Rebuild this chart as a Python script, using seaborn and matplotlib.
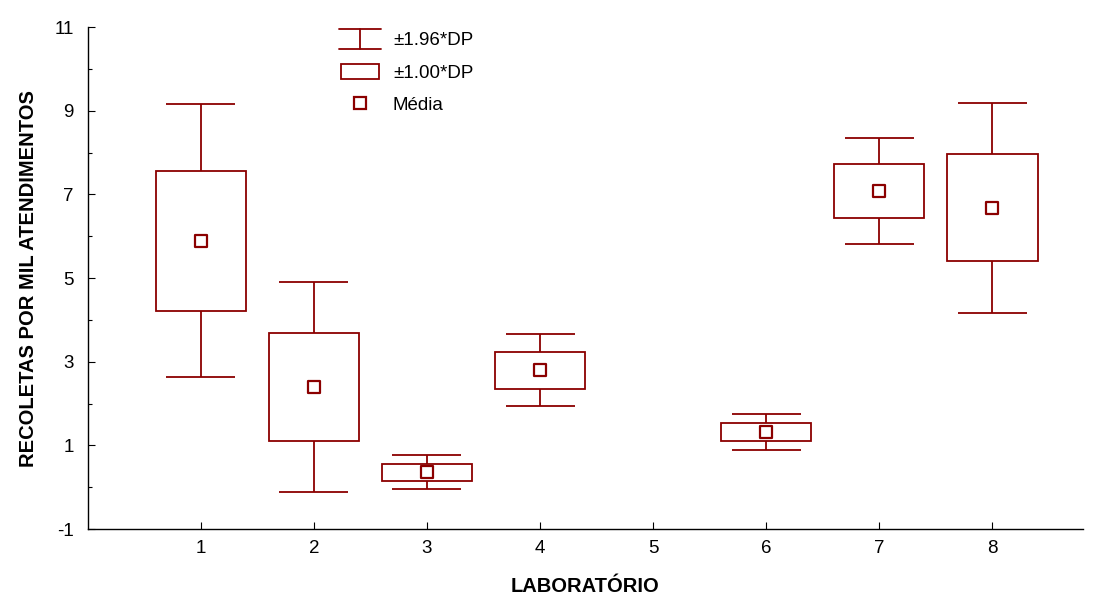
import numpy as np
import pandas as pd
import matplotlib
matplotlib.use("Agg")
import matplotlib.pyplot as plt
from matplotlib.legend_handler import HandlerBase
from matplotlib.lines import Line2D
from matplotlib.patches import Rectangle
import seaborn as sns

# Recoletas por mil atendimentos: média e desvio-padrão por laboratório
laboratorios = [1, 2, 3, 4, 5, 6, 7, 8]
medias = [5.89, 2.40, 0.36, 2.80, np.nan, 1.32, 7.08, 6.68]
desvios = [1.665, 1.285, 0.205, 0.44, np.nan, 0.215, 0.645, 1.28]

y_ticks = [-1, 1, 3, 5, 7, 9, 11]

COR = "#8B0000"

df = pd.DataFrame({"lab": laboratorios, "media": medias, "dp": desvios})
df["box_lo"] = df["media"] - df["dp"]
df["box_hi"] = df["media"] + df["dp"]
df["wh_lo"] = df["media"] - 1.96 * df["dp"]
df["wh_hi"] = df["media"] + 1.96 * df["dp"]
valid = df.dropna()

sns.set_style("ticks")
plt.rcParams["font.family"] = ["Liberation Sans", "DejaVu Sans"]
plt.rcParams["text.color"] = "black"
plt.rcParams["axes.labelcolor"] = "black"

fig = plt.figure(figsize=(10.97, 6.02), dpi=100)
ax = fig.add_axes([0.080, 0.121, 0.907, 0.834])

box_w = 0.8
cap_w = 0.61
lw = 1.3

# caixas ±1.00*DP
ax.bar(valid["lab"], valid["box_hi"] - valid["box_lo"], bottom=valid["box_lo"],
       width=box_w, facecolor="none", edgecolor=COR, linewidth=lw)
# hastes ±1.96*DP
ax.vlines(valid["lab"], valid["box_hi"], valid["wh_hi"], color=COR, linewidth=lw)
ax.vlines(valid["lab"], valid["wh_lo"], valid["box_lo"], color=COR, linewidth=lw)
ax.hlines(valid["wh_hi"], valid["lab"] - cap_w / 2, valid["lab"] + cap_w / 2,
          color=COR, linewidth=lw)
ax.hlines(valid["wh_lo"], valid["lab"] - cap_w / 2, valid["lab"] + cap_w / 2,
          color=COR, linewidth=lw)
# médias
sns.scatterplot(data=valid, x="lab", y="media", marker="s", s=70,
                facecolor="white", edgecolor=COR, linewidth=1.6, ax=ax,
                zorder=5, legend=False)

ax.set_xlim(0, 8.8)
ax.set_ylim(-1, 11)
ax.set_xticks(laboratorios)
ax.set_xticklabels([str(v) for v in laboratorios])
ax.set_yticks(y_ticks)
ax.set_yticklabels([str(v) for v in y_ticks])
ax.set_yticks(np.arange(0, 11, 2), minor=True)

ax.tick_params(axis="both", which="major", direction="in", length=5, width=0.8,
               labelsize=13.5, pad=8, colors="black")
ax.tick_params(axis="y", which="minor", direction="in", length=3, width=0.8,
               colors="black")
ax.tick_params(axis="y", which="major", pad=10)

for side in ["top", "right"]:
    ax.spines[side].set_visible(False)
for side in ["left", "bottom"]:
    ax.spines[side].set_linewidth(1.0)
    ax.spines[side].set_color("black")

ax.set_xlabel("LABORATÓRIO", fontsize=14.5, fontweight="bold", labelpad=14)
ax.set_ylabel("RECOLETAS POR MIL ATENDIMENTOS", fontsize=14.5, fontweight="bold",
              labelpad=12)


class IBeamHandler(HandlerBase):
    def create_artists(self, legend, orig_handle, xdescent, ydescent, width,
                       height, fontsize, trans):
        x0, x1 = -xdescent, -xdescent + width
        y0, y1 = -ydescent - 2, -ydescent + height + 2
        xm = (x0 + x1) / 2
        kw = dict(color=COR, linewidth=lw, transform=trans)
        return [Line2D([x0, x1], [y1, y1], **kw),
                Line2D([x0, x1], [y0, y0], **kw),
                Line2D([xm, xm], [y0, y1], **kw)]


class BoxHandler(HandlerBase):
    def create_artists(self, legend, orig_handle, xdescent, ydescent, width,
                       height, fontsize, trans):
        r = Rectangle((-xdescent + 1, -ydescent), width - 2, height,
                      facecolor="none", edgecolor=COR, linewidth=lw,
                      transform=trans)
        return [r]


h_wh = object()
h_box = object()
h_mean = Line2D([], [], marker="s", linestyle="none", markersize=8,
                markerfacecolor="white", markeredgecolor=COR, markeredgewidth=1.6)

ax.legend([h_wh, h_box, h_mean], ["±1.96*DP", "±1.00*DP", "Média"],
          handler_map={h_wh: IBeamHandler(), h_box: BoxHandler()},
          loc="upper left", bbox_to_anchor=(0.236, 1.025), frameon=False,
          fontsize=13.5, handlelength=2.2, handletextpad=0.65, labelspacing=0.76,
          handleheight=0.85)

fig.savefig("out.png", dpi=100)
